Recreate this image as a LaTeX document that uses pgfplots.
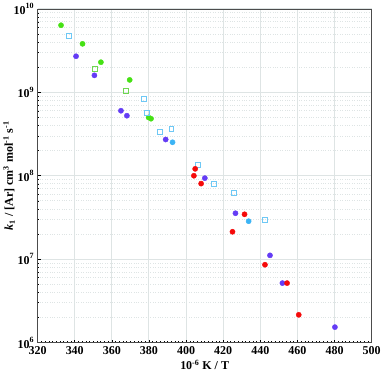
\documentclass[border=0pt]{standalone}
\usepackage{fontspec}
\setmainfont{Liberation Serif}
\usepackage{pgfplots}
\pgfplotsset{compat=1.18}
\definecolor{cgreen}{RGB}{70,225,20}
\definecolor{cgreenopen}{RGB}{110,215,80}
\definecolor{cpurple}{RGB}{100,60,245}
\definecolor{cred}{RGB}{245,10,10}
\definecolor{cblue}{RGB}{60,180,245}
\definecolor{cblueopen}{RGB}{110,200,245}
\definecolor{gridc}{RGB}{222,228,228}

\begin{document}
\begin{tikzpicture}
\begin{axis}[
    scale only axis,
    width=333bp, height=332.5bp,
    xmin=320, xmax=500,
    ymode=log, ymin=1e6, ymax=1e10,
    xtick={320,340,...,500},
    minor x tick num=9,
    ytick={1e6,1e7,1e8,1e9,1e10},
    tick align=inside,
    xtick pos=bottom, ytick pos=left,
    major tick length=3bp, minor tick length=1.8bp,
    grid=both,
    major grid style={gridc, line width=1pt},
    minor y grid style={gridc, dotted, line width=0.8pt},
    minor x grid style={draw=none},
    axis line style={black!70, line width=0.8pt},
    tick style={black, line width=0.5pt},
    tick label style={font=\fontsize{12}{13}\selectfont\bfseries},
    /pgf/number format/assume math mode=true,
    log number format basis/.code 2 args={\bfseries 10\raisebox{1.5bp}{\textsuperscript{\pgfmathprintnumber{#2}}}},
    xticklabel={\bfseries\pgfmathprintnumber{\tick}},
    xlabel={\fontsize{12}{13}\selectfont\bfseries 10\textsuperscript{-6} K / T},
    ylabel={\fontsize{12}{13}\selectfont\bfseries \textit{k}\textsubscript{1} / [Ar] cm\textsuperscript{3} mol\textsuperscript{-1} s\textsuperscript{-1}},
    xlabel style={yshift=1bp},
    ylabel style={yshift=-8bp},
    clip=false,
  ]
  % green filled
  \addplot[only marks, mark=*, mark size=2.6bp, cgreen, mark options={draw=cgreen, fill=cgreen}] coordinates {
    (332.6,6.38e9)(344.2,3.82e9)(354.1,2.30e9)(369.6,1.41e9)(379.8,5.0e8)(381.1,4.83e8)
  };
  % green open
  \addplot[only marks, mark=square, mark size=2.4bp, cgreenopen, mark options={line width=1pt}] coordinates {
    (351.0,1.89e9)(367.7,1.05e9)
  };
  % light blue open
  \addplot[only marks, mark=square, mark size=2.4bp, cblueopen, mark options={line width=1pt}] coordinates {
    (336.8,4.71e9)(377.3,8.24e8)(378.8,5.70e8)(386.1,3.34e8)(392.1,3.66e8)
    (406.5,1.34e8)(415.0,8.0e7)(425.6,6.18e7)(442.3,2.93e7)
  };
  % purple filled
  \addplot[only marks, mark=*, mark size=2.6bp, cpurple, mark options={draw=cpurple, fill=cpurple}] coordinates {
    (340.7,2.71e9)(350.6,1.60e9)(364.9,6.02e8)(368.1,5.25e8)(389.0,2.72e8)
    (410.1,9.36e7)(426.6,3.55e7)(445.2,1.11e7)(451.9,5.16e6)(480.2,1.53e6)
  };
  % light blue filled
  \addplot[only marks, mark=*, mark size=2.6bp, cblue, mark options={draw=cblue, fill=cblue}] coordinates {
    (392.7,2.52e8)(433.7,2.85e7)
  };
  % red filled
  \addplot[only marks, mark=*, mark size=2.6bp, cred, mark options={draw=cred, fill=cred}] coordinates {
    (404.9,1.21e8)(404.2,1.0e8)(408.1,8.05e7)(431.5,3.45e7)(425.0,2.13e7)
    (442.5,8.57e6)(454.4,5.16e6)(460.7,2.15e6)
  };
\end{axis}
\end{tikzpicture}
\end{document}
